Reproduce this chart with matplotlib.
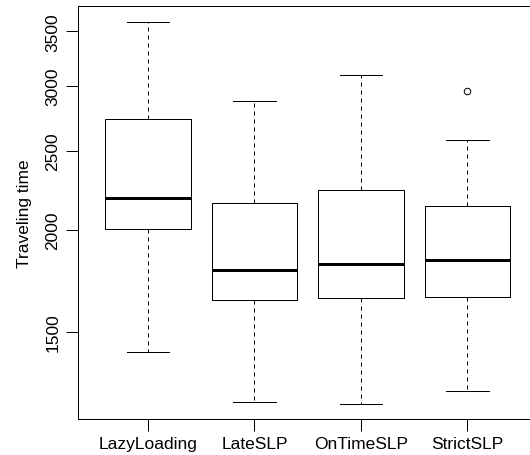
import matplotlib
matplotlib.use("Agg")
import matplotlib.pyplot as plt
from matplotlib.ticker import FixedLocator, FixedFormatter, NullLocator

plt.rcParams['font.family'] = ['Liberation Sans', 'DejaVu Sans']

categories = ["LazyLoading", "LateSLP", "OnTimeSLP", "StrictSLP"]
whisker_low = [1419, 1232, 1225, 1269]
q1 = [2003, 1641, 1649, 1656]
median = [2190, 1789, 1818, 1836]
q3 = [2732, 2156, 2240, 2138]
whisker_high = [3595, 2879, 3092, 2577]
outliers = [[], [], [], [2960]]
yticks = [1500, 2000, 2500, 3000, 3500]
ylabel = "Traveling time"

px = 0.72  # 1 pixel in points at dpi 100
fig = plt.figure(figsize=(5.3, 4.56), dpi=100)
ax = fig.add_axes([77.7/530, 1-419.7/456, 460/530, (419.7-7)/456])

stats = []
for i, c in enumerate(categories):
    stats.append(dict(label=c, whislo=whisker_low[i], q1=q1[i], med=median[i],
                      q3=q3[i], whishi=whisker_high[i], fliers=outliers[i]))

ax.bxp(stats, positions=range(1, len(categories)+1), widths=0.8,
       boxprops=dict(color='black', linewidth=1.0*px),
       medianprops=dict(color='black', linewidth=3.0*px, solid_capstyle='butt'),
       whiskerprops=dict(color='black', linewidth=1.0*px, linestyle=(0, (4, 4))),
       capprops=dict(color='black', linewidth=1.0*px),
       capwidths=0.4,
       flierprops=dict(marker='o', markerfacecolor='none', markeredgecolor='black',
                       markersize=6.5*px, markeredgewidth=1.0*px))

ax.set_yscale('log')
ax.set_ylim(1175, 3759)
ax.set_xlim(0.34, 4.66)
ax.yaxis.set_major_locator(FixedLocator(yticks))
ax.yaxis.set_major_formatter(FixedFormatter([str(t) for t in yticks]))
ax.yaxis.set_minor_locator(NullLocator())
ax.set_xticks(range(1, len(categories)+1))
ax.set_xticklabels(categories)

for lab in ax.get_yticklabels():
    lab.set_rotation(90)
    lab.set_va('center')
ax.tick_params(axis='both', labelsize=12.5, length=8.3, width=1.0*px, color='black', pad=4)
ax.tick_params(axis='y', pad=4)
ax.set_ylabel(ylabel, fontsize=12.5, labelpad=10)

for s in ax.spines.values():
    s.set_linewidth(1.0*px)
    s.set_color('black')
ax.spines['right'].set_visible(False)

fig.savefig("out.png", dpi=100)
